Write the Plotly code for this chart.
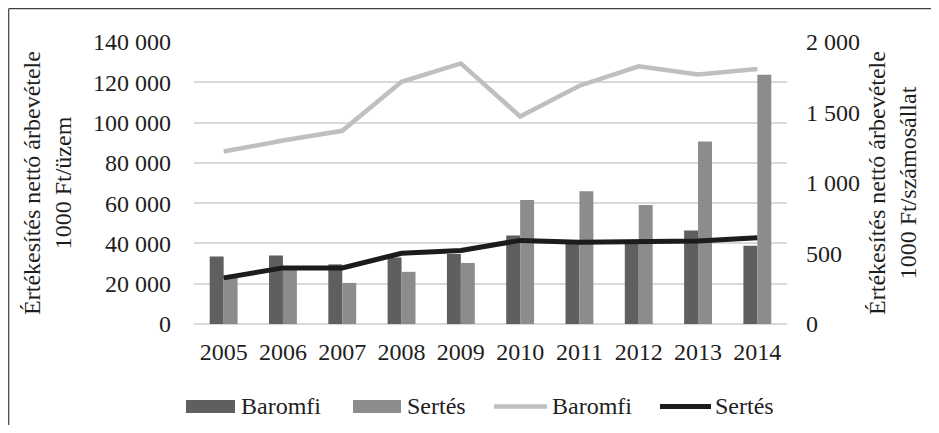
import plotly.graph_objects as go

years = ["2005", "2006", "2007", "2008", "2009", "2010", "2011", "2012", "2013", "2014"]
bar_names = ["Baromfi", "Sertés"]
line_names = ["Baromfi", "Sertés"]
baromfi_bar = [33500, 34000, 29600, 33000, 34700, 43900, 40500, 40500, 46400, 38900]
sertes_bar = [24000, 27500, 20400, 25900, 30300, 61600, 65900, 59100, 90600, 123700]
baromfi_line = [1223, 1301, 1370, 1718, 1848, 1472, 1690, 1827, 1770, 1808]
sertes_line = [327, 398, 398, 502, 522, 593, 580, 580, 588, 612]
left_title = "Értékesítés nettó árbevétele<br>1000 Ft/üzem"
right_title = "Értékesítés nettó árbevétele<br>1000 Ft/számosállat"

C_DARK = "#5f5f5f"
C_LIGHT = "#8c8c8c"
C_GLINE = "#bfbfbf"
C_BLINE = "#1c1c1c"
FONT = "Liberation Serif, Tinos, Times New Roman, DejaVu Serif, serif"
FS = 24
TXT = "#1e1e1e"

OFF = 8  # page body margin of the exported html
W, H = 939 - 2 * OFF, 433 - 2 * OFF
# plot area in screen pixels: x 194..787, y 42..324
SX0, SX1, SY0, SY1 = 194, 787, 42, 324
L, T = SX0 - OFF, SY0 - OFF
R = W - (SX1 - OFF)
B = H - (SY1 - OFF)
PW, PH = SX1 - SX0, SY1 - SY0

def px(x):
    return (x - SX0) / PW

def py(y):
    return (SY1 - y) / PH

fig = go.Figure()
fig.add_trace(go.Bar(x=years, y=baromfi_bar, name=bar_names[0], marker_color=C_DARK,
                     marker_line_width=0, showlegend=False))
fig.add_trace(go.Bar(x=years, y=sertes_bar, name=bar_names[1], marker_color=C_LIGHT,
                     marker_line_width=0, showlegend=False))
fig.add_trace(go.Scatter(x=years, y=baromfi_line, name=line_names[0], yaxis="y2", mode="lines",
                         line=dict(color=C_GLINE, width=4.5), showlegend=False))
fig.add_trace(go.Scatter(x=years, y=sertes_line, name=line_names[1], yaxis="y2", mode="lines",
                         line=dict(color=C_BLINE, width=5), showlegend=False))

shapes = [
    # outer frame: only left and top edges visible
    dict(type="line", xref="paper", yref="paper", x0=px(8.7), x1=px(8.7), y0=py(8.7), y1=py(440),
         line=dict(color="#404040", width=1.2), layer="below"),
    dict(type="line", xref="paper", yref="paper", x0=px(8.7), x1=px(960), y0=py(8.7), y1=py(8.7),
         line=dict(color="#404040", width=1.2), layer="below"),
    # legend swatches
    dict(type="rect", xref="paper", yref="paper", x0=px(186), x1=px(235), y0=py(413), y1=py(400),
         fillcolor=C_DARK, line_width=0),
    dict(type="rect", xref="paper", yref="paper", x0=px(353), x1=px(401), y0=py(413), y1=py(400),
         fillcolor=C_LIGHT, line_width=0),
    dict(type="line", xref="paper", yref="paper", x0=px(494), x1=px(547), y0=py(406.5), y1=py(406.5),
         line=dict(color=C_GLINE, width=4.5)),
    dict(type="line", xref="paper", yref="paper", x0=px(660), x1=px(711), y0=py(406.5), y1=py(406.5),
         line=dict(color=C_BLINE, width=5)),
]

annotations = []
for name, xl in [(bar_names[0], 239), (bar_names[1], 405), (line_names[0], 550), (line_names[1], 713)]:
    annotations.append(dict(text=name, xref="paper", yref="paper", x=px(xl), y=py(406),
                            xanchor="left", yanchor="middle", showarrow=False,
                            font=dict(family=FONT, size=FS, color=TXT)))

fig.update_layout(
    width=W, height=H,
    margin=dict(l=L, r=R, t=T, b=B, autoexpand=False),
    paper_bgcolor="white", plot_bgcolor="white",
    separators=", ",
    barmode="group", bargap=0.53, bargroupgap=0,
    showlegend=False,
    font=dict(family=FONT, size=FS, color=TXT),
    xaxis=dict(type="category", showgrid=False, showline=False, zeroline=False,
               ticks="", tickfont=dict(family=FONT, size=FS, color=TXT), ticklabelstandoff=11),
    yaxis=dict(range=[0, 140000], dtick=20000, tickformat=",d", showgrid=True,
               gridcolor="#d9d9d9", gridwidth=1.5, zeroline=True, zerolinecolor="#d9d9d9",
               zerolinewidth=1.5, showline=False, ticks="", ticklabelstandoff=22,
               tickfont=dict(family=FONT, size=FS, color=TXT),
               title=dict(text=left_title, standoff=14, font=dict(family=FONT, size=FS, color=TXT))),
    yaxis2=dict(range=[0, 2000], dtick=500, tickformat=",d", overlaying="y", side="right",
                showgrid=False, zeroline=False, showline=False, ticks="", ticklabelstandoff=18,
                tickfont=dict(family=FONT, size=FS, color=TXT),
                title=dict(text=right_title, standoff=9, font=dict(family=FONT, size=FS, color=TXT))),
    shapes=shapes,
    annotations=annotations,
)

fig.write_html("out.html")
